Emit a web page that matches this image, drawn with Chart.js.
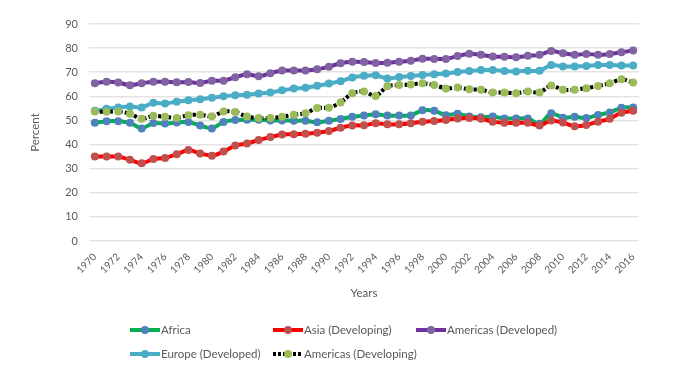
<!DOCTYPE html>
<html>
<head>
<meta charset="utf-8">
<script src="https://cdn.jsdelivr.net/npm/chart.js@4/dist/chart.umd.min.js"></script>
<style>
  html, body { margin: 0; padding: 0; background: #fff; }
  #wrap { position: relative; width: 700px; height: 379px; background: #fff; }
  canvas { position: absolute; left: 0; top: 0; }
  .lg { position: absolute; display: flex; align-items: center; font-family: Lato, "Open Sans", sans-serif; font-size: 11.5px; color: #595959; white-space: nowrap; }
  .sw { position: relative; width: 30px; height: 4px; margin-right: 1px; }
  .dot { position: absolute; left: 11px; top: -2px; width: 8px; height: 8px; border-radius: 50%; }
</style>
</head>
<body>
<div id="wrap">
  <canvas id="c" width="700" height="379"></canvas>
  <div id="legend"></div>
</div>
<script>
const years = [];
for (let y = 1970; y <= 2016; y++) years.push(String(y));

const seriesNames = ["Africa", "Asia (Developing)", "Americas (Developed)", "Europe (Developed)", "Americas (Developing)"];

const africa = [49.0,49.7,49.7,49.0,46.7,48.9,48.7,49.1,49.4,47.9,46.7,49.4,50.2,50.3,50.3,50.0,50.0,49.9,49.9,49.2,49.9,50.6,51.5,52.0,52.6,52.0,52.0,52.1,54.2,54.0,52.2,52.8,51.6,51.3,51.6,50.8,50.8,50.8,48.6,53.0,51.1,51.5,51.0,52.3,53.3,55.3,55.4];
const asiaDeveloping = [35.0,35.0,35.0,33.7,32.2,34.0,34.4,36.0,37.7,36.3,35.4,37.1,39.6,40.4,41.9,43.1,44.2,44.3,44.5,44.9,45.6,47.0,47.9,48.0,48.8,48.4,48.4,48.8,49.5,49.8,50.2,50.8,51.0,50.7,49.5,49.0,49.0,49.0,47.9,50.0,49.1,47.6,48.1,49.5,50.7,53.2,54.0];
const americasDeveloped = [65.4,66.0,65.7,64.6,65.4,66.0,66.0,65.8,65.9,65.5,66.5,66.5,67.9,69.2,68.3,69.6,70.7,70.7,70.7,71.2,72.3,73.7,74.3,74.2,73.8,73.9,74.3,74.8,75.6,75.5,75.5,76.7,77.7,77.2,76.5,76.4,76.2,76.8,77.2,78.8,77.9,77.2,77.6,77.2,77.6,78.3,79.0];
const europeDeveloped = [54.0,54.8,55.4,55.8,55.4,57.3,57.0,57.8,58.4,58.8,59.4,60.0,60.5,60.7,61.2,61.6,62.5,63.2,63.6,64.4,65.3,66.3,67.8,68.5,68.7,67.4,68.0,68.4,68.8,69.2,69.5,70.1,70.5,70.9,70.9,70.5,70.3,70.6,70.6,73.0,72.4,72.4,72.6,73.0,73.0,72.8,72.8];
const americasDeveloping = [53.7,53.6,53.7,52.8,50.7,51.9,51.5,51.0,52.2,52.4,51.7,53.7,53.5,51.6,51.0,51.0,51.5,52.4,53.0,55.2,55.3,57.4,61.3,62.0,60.1,64.2,64.7,64.9,65.4,64.7,63.3,63.7,62.9,62.7,61.6,61.6,61.3,62.0,61.6,64.5,62.7,62.7,63.4,64.3,65.4,67.1,65.7];

const yTicks = [0,10,20,30,40,50,60,70,80,90];

const seriesValues = [africa, asiaDeveloping, americasDeveloped, europeDeveloped, americasDeveloping];
const lineColors = ["#00b050", "#ff0000", "#7030a0", "#4bacc6", "#000000"];
const markerColors = ["#4f81bd", "#c0504d", "#8064a2", "#4bacc6", "#9bbb59"];
const dashes = [[], [], [], [], [3, 2]];

const datasets = seriesNames.map((name, i) => ({
  label: name,
  data: seriesValues[i],
  borderColor: lineColors[i],
  backgroundColor: markerColors[i],
  pointBackgroundColor: markerColors[i],
  pointBorderColor: markerColors[i],
  pointBorderWidth: 0,
  pointRadius: 4,
  borderWidth: 4,
  borderDash: dashes[i],
  borderCapStyle: 'butt',
  tension: 0.25,
  fill: false,
  order: seriesNames.length - i
}));

const FONT = 'Lato, "Open Sans", sans-serif';

new Chart(document.getElementById('c'), {
  type: 'line',
  data: { labels: years, datasets: datasets },
  options: {
    responsive: false,
    animation: false,
    devicePixelRatio: 1,
    layout: { padding: { left: 24, right: 61, top: 24, bottom: 76 } },
    plugins: { legend: { display: false }, tooltip: { enabled: false } },
    scales: {
      x: {
        type: 'category',
        offset: true,
        grid: { display: false },
        border: { display: false },
        ticks: {
          autoSkip: false,
          maxRotation: 45,
          minRotation: 45,
          padding: 2,
          color: '#595959',
          font: { family: FONT, size: 10 },
          callback: function (v, i) { return i % 2 === 0 ? this.getLabelForValue(v) : ''; }
        },
        title: { display: true, text: 'Years', color: '#595959', font: { family: FONT, size: 11.5 }, padding: { top: 0, bottom: 3 } },
        afterFit: s => { s.height = 62; }
      },
      y: {
        min: 0,
        max: 90,
        afterBuildTicks: s => { s.ticks = yTicks.map(v => ({ value: v })); },
        grid: { color: '#e3e3e3', lineWidth: 1.5, drawTicks: false },
        border: { display: false },
        ticks: { color: '#595959', padding: 11, font: { family: FONT, size: 11 } },
        title: { display: true, text: 'Percent', color: '#595959', font: { family: FONT, size: 11.5 }, padding: { top: 4, bottom: 4 } },
        afterFit: s => { s.width = 65; }
      }
    }
  }
});

// HTML legend laid out like the reference (3 columns, 2 rows)
const legendPos = [[130, 331], [273, 331], [416, 331], [130, 355], [273, 355]];
const legend = document.getElementById('legend');
seriesNames.forEach((name, i) => {
  const item = document.createElement('div');
  item.className = 'lg';
  item.style.left = legendPos[i][0] + 'px';
  item.style.top = (legendPos[i][1] - 8) + 'px';
  const sw = document.createElement('div');
  sw.className = 'sw';
  if (dashes[i].length) {
    sw.style.background = 'repeating-linear-gradient(90deg,' + lineColors[i] + ' 0 3px, transparent 3px 5px)';
  } else {
    sw.style.background = lineColors[i];
  }
  const dot = document.createElement('div');
  dot.className = 'dot';
  dot.style.background = markerColors[i];
  sw.appendChild(dot);
  const txt = document.createElement('span');
  txt.textContent = name;
  item.appendChild(sw);
  item.appendChild(txt);
  legend.appendChild(item);
});
</script>
</body>
</html>
